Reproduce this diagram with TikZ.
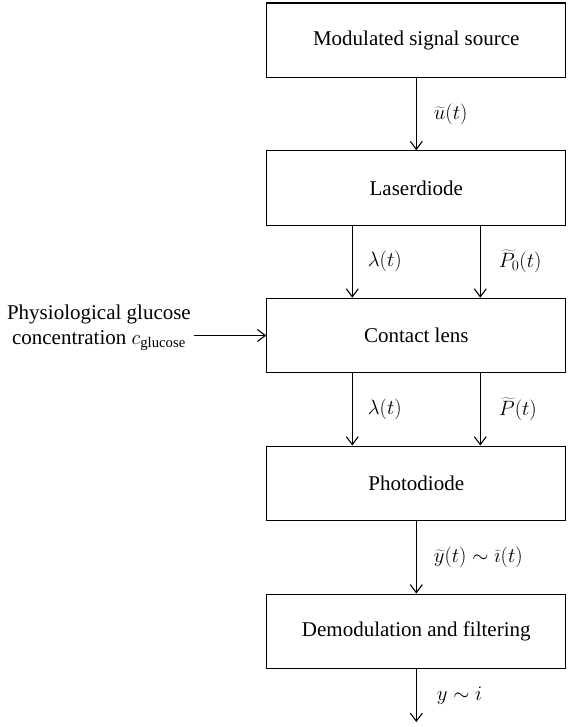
\documentclass[tikz,border=0pt]{standalone}
\usepackage{fontspec}
\setmainfont{Liberation Serif}
\usetikzlibrary{arrows.meta}
\begin{document}
\begin{tikzpicture}[x=1pt,y=-1pt,
  blk/.style={draw, line width=1.1pt, minimum width=299pt, minimum height=74.5pt, inner sep=0pt, font=\fontsize{21}{25}\selectfont},
  flow/.style={-{Straight Barb[length=8pt,width=12pt]}, line width=1.1pt},
  lbl/.style={anchor=west, font=\fontsize{21}{25}\selectfont, inner sep=0pt},
  side/.style={anchor=east, align=center, inner sep=0pt, font=\fontsize{21}{24.5}\selectfont}]
\useasboundingbox (0,0) rectangle (567,727);
\node[blk] (b1) at (416.3,40.3) {Modulated signal source};
\node[blk] (b2) at (416.3,188) {Laserdiode};
\node[blk] (b3) at (416.3,335.5) {Contact lens};
\node[blk] (b4) at (416.3,483.3) {Photodiode};
\node[blk] (b5) at (416.3,631.3) {Demodulation and filtering};
\coordinate (out) at (416.3,722);
\node[side] (txt) at (191,328) {Physiological glucose\\concentration $c_{\mathrm{glucose}}$};

\draw[flow] (b1.south) -- node[lbl, xshift=17pt] (l1) {$\widetilde{u}(t)$} (b2.north);
\draw[flow] ([xshift=-64pt]b2.south) -- node[lbl, xshift=15pt] (l2) {$\lambda(t)$} ([xshift=-64pt]b3.north);
\draw[flow] ([xshift=64pt]b2.south) -- node[lbl, xshift=18pt] (l3) {$\widetilde{P}_0(t)$} ([xshift=64pt]b3.north);
\draw[flow] ([xshift=3pt]txt.east |- b3.west) -- (b3.west);
\draw[flow] ([xshift=-64pt]b3.south) -- node[lbl, xshift=15pt] (l4) {$\lambda(t)$} ([xshift=-64pt]b4.north);
\draw[flow] ([xshift=64pt]b3.south) -- node[lbl, xshift=18pt] (l5) {$\widetilde{P}(t)$} ([xshift=64pt]b4.north);
\draw[flow] (b4.south) -- node[lbl, xshift=17pt] (l6) {$\widetilde{y}(t)\sim\widetilde{\imath}(t)$} (b5.north);
\draw[flow] (b5.south) -- node[lbl, xshift=20pt] (l7) {$y\sim i$} (out);
\end{tikzpicture}
\end{document}
